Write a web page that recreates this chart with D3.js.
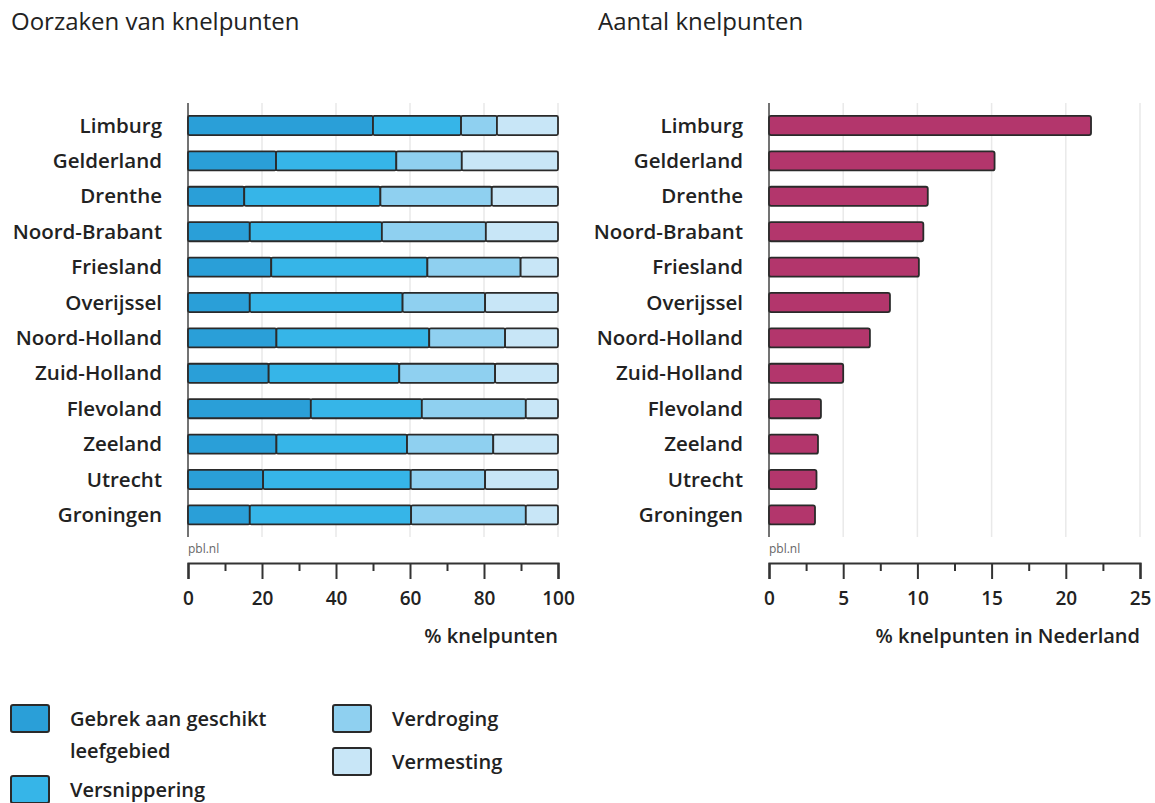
<!DOCTYPE html>
<html>
<head>
<meta charset="utf-8">
<script src="https://cdn.jsdelivr.net/npm/d3@7"></script>
<style>
  html, body { margin: 0; padding: 0; background: #fff; }
  svg { display: block; font-family: "Open Sans", "Noto Sans", sans-serif; }
</style>
</head>
<body>
<svg id="chart" width="1155" height="803"></svg>
<script>
// ---- data ----
const provinces = ["Limburg", "Gelderland", "Drenthe", "Noord-Brabant", "Friesland", "Overijssel",
  "Noord-Holland", "Zuid-Holland", "Flevoland", "Zeeland", "Utrecht", "Groningen"];
const causes = ["Gebrek aan geschikt leefgebied", "Versnippering", "Verdroging", "Vermesting"];
const gebrek        = [50.0, 23.8, 15.2, 16.7, 22.5, 16.7, 23.9, 21.8, 33.2, 23.9, 20.3, 16.7];
const versnippering = [23.8, 32.5, 36.8, 35.7, 42.2, 41.3, 41.3, 35.3, 30.0, 35.3, 39.9, 43.6];
const verdroging    = [ 9.7, 17.7, 30.1, 28.1, 25.2, 22.3, 20.5, 25.9, 28.1, 23.3, 20.1, 31.0];
const vermesting    = [16.5, 26.0, 17.9, 19.5, 10.1, 19.7, 14.3, 17.0,  8.7, 17.5, 19.7,  8.7];
const aantal        = [21.7, 15.2, 10.7, 10.4, 10.1, 8.15, 6.8, 5.0, 3.5, 3.3, 3.2, 3.1];
const leftTicks  = [0, 20, 40, 60, 80, 100];
const rightTicks = [0, 5, 10, 15, 20, 25];
const titles = ["Oorzaken van knelpunten", "Aantal knelpunten"];
const axisTitles = ["% knelpunten", "% knelpunten in Nederland"];
const sourceLabel = "pbl.nl";

// ---- styles ----
const causeColors = ["#2a9fd8", "#36b5e8", "#8fd0f0", "#c8e6f7"];
const barColor = "#b3366c";
const strokeCol = "#2a2a2a";
const gridCol = "#e9e9e9";

const svg = d3.select("#chart");

const y = d3.scaleBand().domain(provinces).range([107.8, 532.6]).paddingInner(0.46).paddingOuter(0.23);
const xL = d3.scaleLinear().domain([0, 100]).range([188, 558]);
const xR = d3.scaleLinear().domain([0, 25]).range([769, 1140]);

// titles
svg.append("text").attr("x", 11).attr("y", 30).text(titles[0])
  .attr("font-size", 24).attr("font-weight", 500).attr("fill", "#222");
svg.append("text").attr("x", 598).attr("y", 30).text(titles[1])
  .attr("font-size", 24).attr("font-weight", 500).attr("fill", "#222");

function panel(x, ticks, minorTicks, axisTitle) {
  const g = svg.append("g");
  // grid
  g.selectAll("line.grid").data(ticks.slice(1)).join("line")
    .attr("x1", d => x(d)).attr("x2", d => x(d)).attr("y1", 103).attr("y2", 537)
    .attr("stroke", gridCol).attr("stroke-width", 1.5);
  // vertical axis line
  g.append("line").attr("x1", x(0)).attr("x2", x(0)).attr("y1", 103).attr("y2", 537)
    .attr("stroke", "#444").attr("stroke-width", 1.5);
  // category labels
  g.selectAll("text.cat").data(provinces).join("text")
    .attr("x", x(0) - 26).attr("y", d => y(d) + y.bandwidth() / 2)
    .attr("dy", "0.35em").attr("text-anchor", "end")
    .attr("font-size", 20.5).attr("font-weight", 600).attr("fill", "#222")
    .text(d => d);
  // source
  g.append("text").attr("x", x(0)).attr("y", 553).text(sourceLabel)
    .attr("font-size", 12).attr("fill", "#666");
  // bottom axis
  const axY = 563;
  const minor = g.append("g").attr("transform", `translate(0,${axY})`)
    .call(d3.axisBottom(x).tickValues(minorTicks).tickSize(8).tickFormat(""));
  minor.select(".domain").remove();
  minor.selectAll("line").attr("stroke", "#333").attr("stroke-width", 2);
  const ax = g.append("g").attr("transform", `translate(0,${axY})`)
    .call(d3.axisBottom(x).tickValues(ticks).tickSize(16).tickSizeOuter(16).tickPadding(13));
  ax.select(".domain").attr("stroke", "#333").attr("stroke-width", 2.2);
  ax.selectAll("line").attr("stroke", "#333").attr("stroke-width", 2);
  ax.selectAll("text").attr("font-size", 19).attr("font-weight", 600).attr("fill", "#222")
    .attr("font-family", "\"Open Sans\", sans-serif");
  g.append("text").attr("x", x.range()[1]).attr("y", 643).attr("text-anchor", "end")
    .attr("font-size", 20).attr("font-weight", 600).attr("fill", "#222").text(axisTitle);
  return g;
}

const gL = panel(xL, leftTicks, [10, 30, 50, 70, 90], axisTitles[0]);
const gR = panel(xR, rightTicks, [2.5, 7.5, 12.5, 17.5, 22.5], axisTitles[1]);

// stacked bars
const rows = provinces.map((p, i) => ({ province: p, vals: [gebrek[i], versnippering[i], verdroging[i], vermesting[i]] }));
const stack = d3.stack().keys([0, 1, 2, 3]).value((d, k) => d.vals[k]);
const series = stack(rows);
series.forEach((s, k) => {
  gL.selectAll(null).data(s).join("rect")
    .attr("x", d => xL(d[0])).attr("width", d => xL(d[1]) - xL(d[0]))
    .attr("y", d => y(d.data.province)).attr("height", y.bandwidth())
    .attr("rx", 1.5)
    .attr("fill", causeColors[k]).attr("stroke", strokeCol).attr("stroke-width", 1.8);
});

// right bars
gR.selectAll(null).data(provinces).join("rect")
  .attr("x", xR(0)).attr("width", (d, i) => xR(aantal[i]) - xR(0))
  .attr("y", d => y(d)).attr("height", y.bandwidth())
  .attr("rx", 2)
  .attr("fill", barColor).attr("stroke", strokeCol).attr("stroke-width", 1.8);

// legend
const legendItems = [
  { label: ["Gebrek aan geschikt", "leefgebied"], x: 11, y: 705 },
  { label: ["Versnippering"], x: 11, y: 776 },
  { label: ["Verdroging"], x: 333, y: 705 },
  { label: ["Vermesting"], x: 333, y: 748 }
];
const lg = svg.append("g");
legendItems.forEach((it, k) => {
  lg.append("rect").attr("x", it.x).attr("y", it.y).attr("width", 38).attr("height", 27)
    .attr("rx", 2).attr("fill", causeColors[k]).attr("stroke", strokeCol).attr("stroke-width", 2);
  const t = lg.append("text").attr("x", it.x + 59).attr("y", it.y + 14).attr("dy", "0.35em")
    .attr("font-size", 20).attr("font-weight", 600).attr("fill", "#222");
  it.label.forEach((line, j) => {
    t.append("tspan").attr("x", it.x + 59).attr("dy", j === 0 ? "0.35em" : "1.6em").text(line);
  });
});
</script>
</body>
</html>
